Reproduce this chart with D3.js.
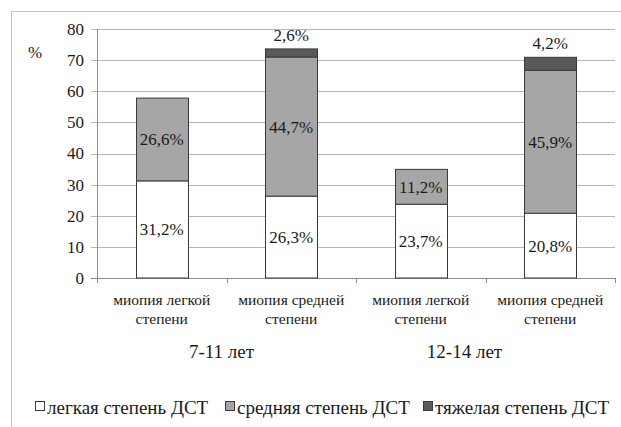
<!DOCTYPE html>
<html>
<head>
<meta charset="utf-8">
<script src="https://cdn.jsdelivr.net/npm/d3@7/dist/d3.min.js"></script>
</head>
<body style="margin:0; background:#fff; font-family:'Liberation Serif'">
<svg id="chart" width="621" height="427" style="display:block; font-family:'Liberation Serif'"></svg>
<script>
// Categories (myopia degree) and their age groups
const categories = ["7-11|легкой", "7-11|средней", "12-14|легкой", "12-14|средней"];
const categoryLines = [
  ["миопия легкой", "степени"],
  ["миопия средней", "степени"],
  ["миопия легкой", "степени"],
  ["миопия средней", "степени"]
];
const groups = ["7-11 лет", "12-14 лет"];
const groupMembers = [[0, 1], [2, 3]];

// Stacked series (% of children), by connective tissue dysplasia degree
const seriesNames = ["легкая степень ДСТ", "средняя степень ДСТ", "тяжелая степень ДСТ"];
const mildValues   = [31.2, 26.3, 23.7, 20.8];
const mediumValues = [26.6, 44.7, 11.2, 45.9];
const severeValues = [0, 2.6, 0, 4.2];

const yTicks = [0, 10, 20, 30, 40, 50, 60, 70, 80];
const seriesColors = ["#ffffff", "#a6a6a6", "#595959"];
const INK = "#1a1a1a";

const svg = d3.select("#chart");

function label(sel, px) {
  return sel.attr("style", `font-family:'Liberation Serif';font-size:${px}px`).attr("fill", INK);
}

// outer frame (top and left edges)
svg.append("line").attr("x1", 11).attr("y1", 11.5).attr("x2", 621).attr("y2", 11.5)
  .attr("stroke", "#c4c4c4").attr("stroke-width", 1);
svg.append("line").attr("x1", 11.5).attr("y1", 11).attr("x2", 11.5).attr("y2", 427)
  .attr("stroke", "#c4c4c4").attr("stroke-width", 1);

const plot = { left: 97, right: 615, top: 29, bottom: 278 };

const x = d3.scaleBand().domain(categories)
  .range([plot.left, plot.right]).paddingInner(0.6).paddingOuter(0.3);
const y = d3.scaleLinear().domain([0, 80]).range([plot.bottom, plot.top]);

// gridlines with small left ticks
yTicks.forEach(t => {
  svg.append("line")
    .attr("x1", plot.left - 6).attr("x2", plot.right)
    .attr("y1", Math.round(y(t)) + 0.5).attr("y2", Math.round(y(t)) + 0.5)
    .attr("stroke", t === 0 ? "#8c8c8c" : "#b5b5b5").attr("stroke-width", 1);
  label(svg.append("text"), 17)
    .attr("x", plot.left - 13).attr("y", y(t))
    .attr("dy", "0.35em").attr("text-anchor", "end")
    .text(t);
});
// vertical axis
svg.append("line")
  .attr("x1", plot.left + 0.5).attr("x2", plot.left + 0.5)
  .attr("y1", plot.top).attr("y2", plot.bottom)
  .attr("stroke", "#8c8c8c");

// category boundary ticks below the axis
const step = x.step();
const boundaries = d3.range(categories.length + 1)
  .map(i => x(categories[0]) - x.paddingOuter() * step + i * step);
boundaries.forEach(b => {
  svg.append("line")
    .attr("x1", Math.round(b) + 0.5).attr("x2", Math.round(b) + 0.5)
    .attr("y1", plot.bottom).attr("y2", plot.bottom + 5)
    .attr("stroke", "#8c8c8c");
});

label(svg.append("text"), 17).attr("x", 35).attr("y", 52).attr("dy", "0.35em")
  .attr("text-anchor", "middle").text("%");

// stacked bars
const rows = categories.map((c, i) => ({ cat: c, s0: mildValues[i], s1: mediumValues[i], s2: severeValues[i] }));
const stack = d3.stack().keys(["s0", "s1", "s2"])(rows);

const fmt = v => d3.format(".1f")(v).replace(".", ",") + "%";

stack.forEach((layer, li) => {
  layer.forEach(seg => {
    const val = seg[1] - seg[0];
    if (val <= 0) return;
    svg.append("rect")
      .attr("x", Math.round(x(seg.data.cat)) + 0.5)
      .attr("y", y(seg[1]))
      .attr("width", Math.round(x.bandwidth()))
      .attr("height", y(seg[0]) - y(seg[1]))
      .attr("fill", seriesColors[li])
      .attr("stroke", "#3a3a3a").attr("stroke-width", 1);
  });
});

// value labels
stack.forEach((layer, li) => {
  layer.forEach(seg => {
    const val = seg[1] - seg[0];
    if (val <= 0) return;
    const cx = x(seg.data.cat) + x.bandwidth() / 2;
    const cy = li === 2 ? y(seg[1]) - 14 : y((seg[0] + seg[1]) / 2);
    label(svg.append("text"), 17)
      .attr("x", cx).attr("y", cy).attr("dy", "0.35em")
      .attr("text-anchor", "middle")
      .text(fmt(val));
  });
});

// category labels
categories.forEach((c, i) => {
  const cx = x(c) + x.bandwidth() / 2;
  categoryLines[i].forEach((ln, k) => {
    label(svg.append("text"), 15.5)
      .attr("x", cx).attr("y", 300 + k * 19).attr("dy", "0.35em")
      .attr("text-anchor", "middle").text(ln);
  });
});

// age group labels
groups.forEach((g, gi) => {
  const a = x(categories[groupMembers[gi][0]]);
  const b = x(categories[groupMembers[gi][1]]) + x.bandwidth();
  label(svg.append("text"), 19)
    .attr("x", (a + b) / 2 - 5 - gi * 16).attr("y", 351).attr("dy", "0.35em")
    .attr("text-anchor", "middle").text(g);
});

// legend
const legendX = [35, 225, 423];
seriesNames.forEach((n, i) => {
  const g = svg.append("g").attr("transform", `translate(${legendX[i]},407)`);
  g.append("rect").attr("x", 0.5).attr("y", -5.5).attr("width", 9).attr("height", 9)
    .attr("fill", seriesColors[i]).attr("stroke", "#3a3a3a");
  label(g.append("text"), 19).attr("x", 12).attr("y", 0).attr("dy", "0.35em")
    .text(n);
});
</script>
</body>
</html>
